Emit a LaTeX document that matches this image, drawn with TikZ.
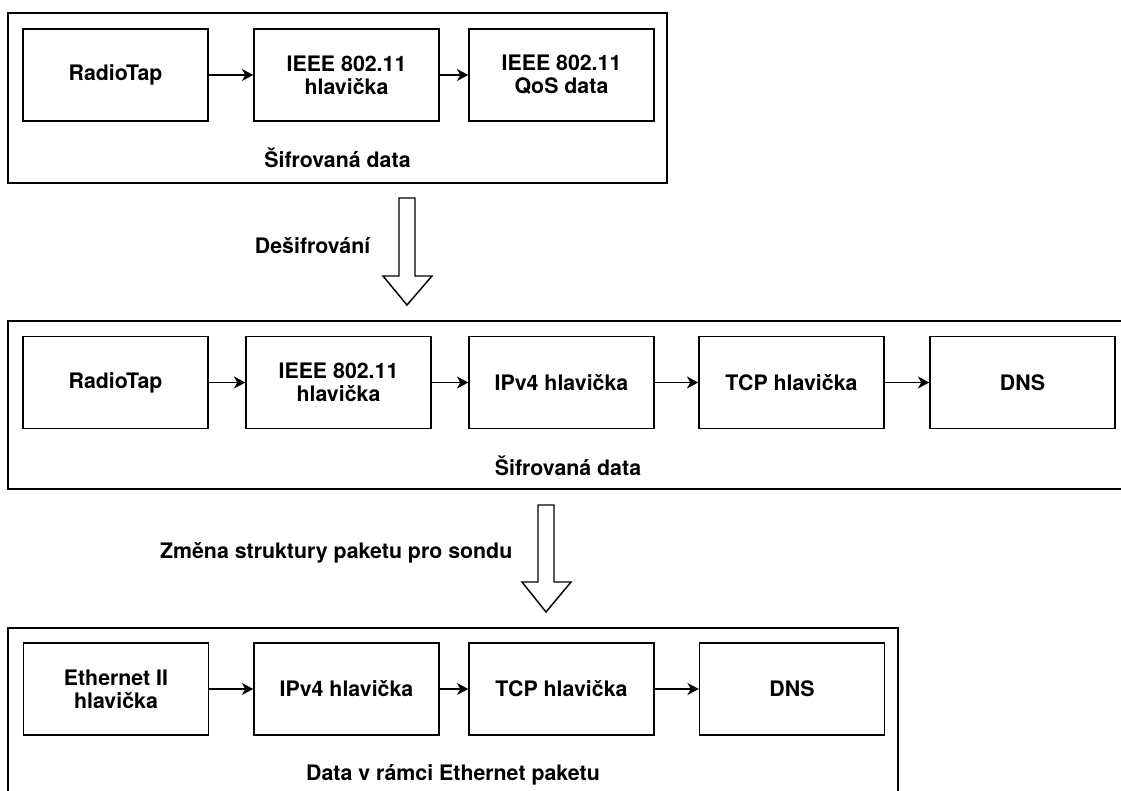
\documentclass[tikz,border=0pt]{standalone}
\usepackage{fontspec}
\setmainfont{TeX Gyre Heros}
\usetikzlibrary{arrows.meta}

\begin{document}
\begin{tikzpicture}[>={Stealth[length=8.5pt,width=9pt,inset=2.5pt]}, x=0.75pt, y=-0.75pt,
    box/.style={draw, line width=1.1pt, minimum width=138.75pt, minimum height=69pt,
        inner sep=0pt, align=center, font=\bfseries\fontsize{16}{17.5}\selectfont},
    frame/.style={draw, line width=1.1pt},
    lbl/.style={font=\bfseries\fontsize{16}{17.5}\selectfont},
    blockarrow/.style={draw, line width=1.1pt, fill=white, line join=miter}]

    \clip (0,0) rectangle (1121,791);

    % encrypted frame
    \draw[frame] (8,13) rectangle (667,183);
    \node[box] (radiotapA) at (115.5,75) {RadioTap};
    \node[box] (ieeeA) at (346.5,75) {IEEE 802.11\\hlavička};
    \node[box] (qos) at (561.5,75) {IEEE 802.11\\QoS data};
    \node[lbl] (encA) at (337.5,158) {Šifrovaná data};

    \draw[->, line width=1.1pt] (radiotapA) -- (ieeeA);
    \draw[->, line width=1.1pt] (ieeeA) -- (qos);

    \draw[blockarrow] (399,198) -- (415,198) -- (415,276) -- (432,276)
        -- (407,305) -- (383,276) -- (399,276) -- cycle;
    \node[lbl, anchor=east] (decrypt) at (375,246) {Dešifrování};

    % decrypted frame
    \draw[frame] (8,321) rectangle (1128,489);
    \node[box] (radiotapB) at (115.5,382.5) {RadioTap};
    \node[box] (ieeeB) at (338.5,382.5) {IEEE 802.11\\hlavička};
    \node[box] (ipB) at (561.5,382.5) {IPv4 hlavička};
    \node[box] (tcpB) at (791.5,382.5) {TCP hlavička};
    \node[box] (dnsB) at (1022.5,382.5) {DNS};
    \node[lbl] (encB) at (568,466) {Šifrovaná data};

    \draw[->, line width=1.1pt] (radiotapB) -- (ieeeB);
    \draw[->, line width=1.1pt] (ieeeB) -- (ipB);
    \draw[->, line width=1.1pt] (ipB) -- (tcpB);
    \draw[->, line width=1.1pt] (tcpB) -- (dnsB);

    \draw[blockarrow] (538,505) -- (554,505) -- (554,582) -- (571,582)
        -- (546,612) -- (522,582) -- (538,582) -- cycle;
    \node[lbl, anchor=east] (restruct) at (517,553) {Změna struktury paketu pro sondu};

    % ethernet frame
    \draw[frame] (8,628) rectangle (898,800);
    \node[box] (eth) at (116,689) {Ethernet II\\hlavička};
    \node[box] (ipC) at (346.5,689) {IPv4 hlavička};
    \node[box] (tcpC) at (561.5,689) {TCP hlavička};
    \node[box] (dnsC) at (792,689) {DNS};
    \node[lbl] (ethdata) at (453,775) {Data v rámci Ethernet paketu};

    \draw[->, line width=1.1pt] (eth) -- (ipC);
    \draw[->, line width=1.1pt] (ipC) -- (tcpC);
    \draw[->, line width=1.1pt] (tcpC) -- (dnsC);

\end{tikzpicture}
\end{document}
